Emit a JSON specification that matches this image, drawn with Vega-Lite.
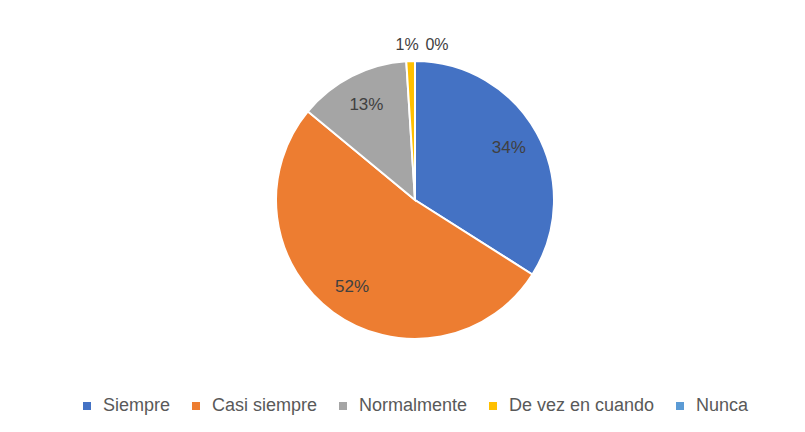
{
  "$schema": "https://vega.github.io/schema/vega-lite/v6.json",
  "width": 780,
  "height": 400,
  "padding": {"left": 25, "top": 0, "right": 0, "bottom": 0},
  "autosize": {"type": "pad"},
  "background": "white",
  "config": {"view": {"stroke": null}, "font": "Liberation Sans"},
  "data": {
    "values": [
      {"categoria": "Siempre", "pct": 34, "orden": 1, "etiqueta": "34%"},
      {"categoria": "Casi siempre", "pct": 52, "orden": 2, "etiqueta": "52%"},
      {"categoria": "Normalmente", "pct": 13, "orden": 3, "etiqueta": "13%"},
      {"categoria": "De vez en cuando", "pct": 1, "orden": 4, "etiqueta": "1%"},
      {"categoria": "Nunca", "pct": 0, "orden": 5, "etiqueta": "0%"}
    ]
  },
  "encoding": {
    "theta": {"field": "pct", "type": "quantitative", "stack": true},
    "order": {"field": "orden", "type": "quantitative"}
  },
  "layer": [
    {
      "mark": {"type": "arc", "outerRadius": 139, "stroke": "white", "strokeWidth": 2},
      "encoding": {
        "color": {
          "field": "categoria",
          "type": "nominal",
          "sort": ["Siempre", "Casi siempre", "Normalmente", "De vez en cuando", "Nunca"],
          "scale": {
            "domain": ["Siempre", "Casi siempre", "Normalmente", "De vez en cuando", "Nunca"],
            "range": ["#4472C4", "#ED7D31", "#A5A5A5", "#FFC000", "#5B9BD5"]
          },
          "legend": {
            "title": null,
            "orient": "none",
            "direction": "horizontal",
            "legendX": 53,
            "legendY": 397,
            "symbolType": "square",
            "symbolSize": 64,
            "symbolStrokeWidth": 0,
            "labelFontSize": 18,
            "labelColor": "#595959",
            "labelFont": "Liberation Sans",
            "columnPadding": 16,
            "labelOffset": 7,
            "labelLimit": 300
          }
        }
      }
    },
    {
      "mark": {"type": "text", "radius": 107, "fontSize": 17, "color": "#404040"},
      "encoding": {
        "text": {"condition": {"test": "datum.pct >= 5", "field": "etiqueta"}, "value": ""}
      }
    },
    {
      "mark": {"type": "text", "radius": 155, "dx": -3, "fontSize": 16, "color": "#404040"},
      "encoding": {
        "text": {"condition": {"test": "datum.pct > 0 && datum.pct < 5", "field": "etiqueta"}, "value": ""}
      }
    },
    {
      "mark": {"type": "text", "radius": 155, "dx": 22, "fontSize": 16, "color": "#404040"},
      "encoding": {
        "text": {"condition": {"test": "datum.pct == 0", "field": "etiqueta"}, "value": ""}
      }
    }
  ]
}
